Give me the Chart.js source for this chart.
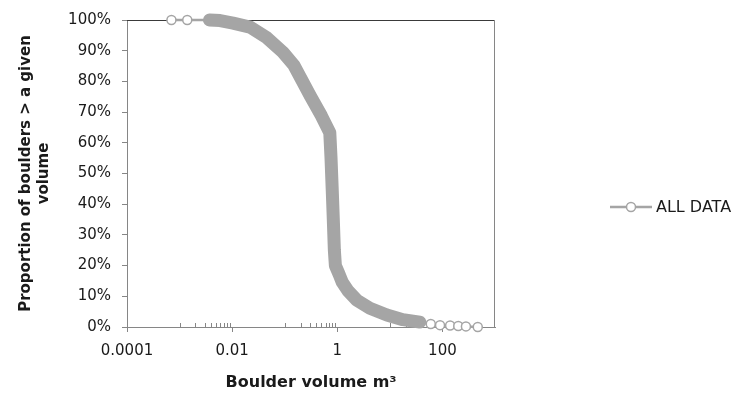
<!DOCTYPE html>
<html>
<head>
<meta charset="utf-8">
<script src="https://cdn.jsdelivr.net/npm/chart.js@4.4.1/dist/chart.umd.min.js"></script>
<style>
  html, body { margin: 0; padding: 0; background: #fff; }
  #wrap { position: relative; width: 735px; height: 397px; }
  #legend { position: absolute; left: 608px; top: 197px; display: flex; align-items: center;
    font: 16px "DejaVu Sans", sans-serif; color: #1a1a1a; white-space: nowrap; }
  #legend svg { margin-right: 2px; }
</style>
</head>
<body>
<div id="wrap">
  <canvas id="chart" width="735" height="397"></canvas>
  <div id="legend">
    <svg width="46" height="14"><line x1="2" y1="7" x2="44" y2="7" stroke="#a5a5a5" stroke-width="2.5"/><circle cx="23" cy="7" r="4.5" fill="#fff" stroke="#a5a5a5" stroke-width="1.5"/></svg>
    <span>ALL DATA</span>
  </div>
</div>
<script>
// boulder volume (m3) and proportion of boulders larger than it (%)
const volume = [0.0007, 0.0014, 0.0037, 0.0059, 0.0104, 0.0218, 0.0459, 0.0925, 0.149, 0.308,
  0.499, 0.72, 0.76, 0.80, 0.84, 0.88, 0.92, 1.07, 1.25, 1.58, 2.36, 4.17, 8.77, 17.7, 37.2,
  60, 90, 140, 200, 280, 470]
const proportion = [100, 100, 100, 99.8, 99, 97.7, 94.2, 89.5, 85.3, 75.2,
  68.8, 63.3, 55, 45, 35, 25, 20, 17.4, 14.5, 11.9, 8.7, 6.1, 3.9, 2.4, 1.6,
  1.0, 0.6, 0.5, 0.3, 0.2, 0]

// points that are so close together they merge into a thick band
const denseFrom = 2
const denseTo = 24

const xMajorTicks = [0.0001, 0.01, 1, 100]
const xMinorTicks = [0.001, 0.002, 0.003, 0.004, 0.005, 0.006, 0.007, 0.008, 0.009,
  0.1, 0.2, 0.3, 0.4, 0.5, 0.6, 0.7, 0.8, 0.9,
  10, 20, 30, 40, 50, 60, 70, 80, 90]

const gray = '#a5a5a5'
const axisGray = '#868686'
const textColor = '#1a1a1a'

const isDense = i => i >= denseFrom && i <= denseTo

// top/right frame of the plot, plus the small inward minor ticks
const framePlugin = {
  id: 'frame',
  beforeDatasetsDraw(chart) {
    const { ctx, chartArea: a, scales } = chart
    ctx.save()
    ctx.lineWidth = 1
    ctx.strokeStyle = '#3a3a3a'
    ctx.beginPath()
    ctx.moveTo(a.left, a.top + 0.5)
    ctx.lineTo(a.right, a.top + 0.5)
    ctx.stroke()
    ctx.strokeStyle = axisGray
    ctx.beginPath()
    ctx.moveTo(a.right - 0.5, a.top)
    ctx.lineTo(a.right - 0.5, a.bottom)
    ctx.stroke()
    ctx.beginPath()
    xMinorTicks.forEach(v => {
      const x = Math.round(scales.x.getPixelForValue(v)) + 0.5
      ctx.moveTo(x, a.bottom)
      ctx.lineTo(x, a.bottom - 4)
    })
    ctx.stroke()
    ctx.restore()
  }
}

new Chart(document.getElementById('chart'), {
  type: 'line',
  data: {
    datasets: [{
      label: 'ALL DATA',
      data: volume.map((v, i) => ({ x: v, y: proportion[i] })),
      borderColor: gray,
      borderWidth: 2,
      borderCapStyle: 'round',
      borderJoinStyle: 'round',
      segment: {
        borderWidth: ctx => (isDense(ctx.p0DataIndex) && isDense(ctx.p1DataIndex)) ? 13 : 2.5
      },
      pointRadius: ctx => isDense(ctx.dataIndex) ? 0 : 4.5,
      pointBackgroundColor: '#fff',
      pointBorderColor: gray,
      pointBorderWidth: 1.5,
      tension: 0,
      clip: false
    }]
  },
  options: {
    responsive: false,
    animation: false,
    events: [],
    layout: { padding: { top: 16, right: 240, bottom: 0, left: 0 } },
    plugins: {
      legend: { display: false },
      tooltip: { enabled: false }
    },
    scales: {
      x: {
        type: 'logarithmic',
        position: 'bottom',
        min: 0.0001,
        max: 1000,
        afterBuildTicks: axis => {
          axis.ticks = xMajorTicks.map(v => ({ value: v }))
        },
        afterFit: axis => { axis.height = 70 },
        ticks: {
          autoSkip: false,
          maxRotation: 0,
          padding: 10,
          color: textColor,
          font: { family: 'DejaVu Sans', size: 15 },
          callback: v => String(v)
        },
        grid: { drawOnChartArea: false, drawTicks: true, tickLength: 5, color: axisGray },
        border: { display: true, color: axisGray, width: 1 },
        title: {
          display: true,
          text: 'Boulder volume m³',
          color: textColor,
          font: { family: 'DejaVu Sans', size: 16, weight: 'bold' },
          padding: { top: 0, bottom: 5 }
        }
      },
      y: {
        min: 0,
        max: 100,
        afterFit: axis => { axis.width = 127 },
        ticks: {
          stepSize: 10,
          padding: 11,
          color: textColor,
          font: { family: 'DejaVu Sans', size: 15 },
          callback: v => v + '%'
        },
        grid: { drawOnChartArea: false, drawTicks: true, tickLength: 5, color: axisGray },
        border: { display: true, color: axisGray, width: 1 },
        title: {
          display: true,
          text: ['Proportion of boulders > a given', 'volume'],
          color: textColor,
          font: { family: 'DejaVu Sans', size: 15, weight: 'bold' },
          padding: { top: 17, bottom: 0 }
        }
      }
    }
  },
  plugins: [framePlugin]
})
</script>
</body>
</html>
